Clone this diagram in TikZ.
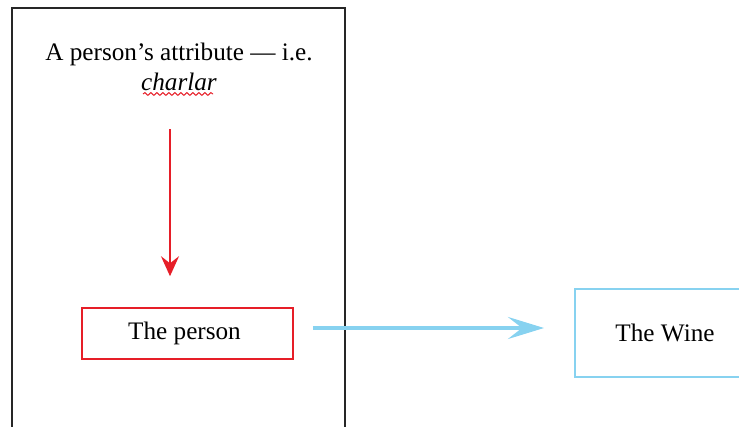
\documentclass[tikz,border=0pt]{standalone}
\usepackage{fontspec}
\setmainfont{Liberation Serif}
\usetikzlibrary{arrows.meta, positioning, decorations.pathmorphing}
\definecolor{boxred}{RGB}{230,30,40}
\definecolor{skyblue}{RGB}{135,210,240}

\begin{document}
\begin{tikzpicture}[
        x=0.5pt, y=-0.5pt,
        every node/.style={align=center, font=\fontsize{12.6}{15}\selectfont, inner sep=0pt},
        redbox/.style={draw=boxred, line width=0.75pt, minimum width=105.5pt, minimum height=25.5pt},
        bluebox/.style={draw=skyblue, line width=1pt, minimum width=90pt, minimum height=44pt},
        redarrow/.style={-{Stealth[length=10pt, width=9pt, inset=3.5pt]}, draw=boxred, line width=1pt},
        bluearrow/.style={-{Stealth[length=18pt, width=11pt, inset=7pt]}, draw=skyblue, line width=2pt}
    ]
    \useasboundingbox (0,0) rectangle (739,427);
    \clip (0,0) rectangle (739,427);

    % Frame
    \draw[line width=1pt, black!85] (12,8) rectangle (345,450);

    % Nodes
    \node (attr) at (179,67) {A person’s attribute — i.e.\\ \textit{charlar}};
    \node (person) [redbox] at (187.5,333.5) {\hspace*{-3pt}The person};
    \node (wine) [bluebox] at (665,333) {The Wine};

    % spell-check squiggle
    \draw[boxred, line width=0.5pt, decorate, decoration={snake, amplitude=0.7pt, segment length=3pt}] (143,94) -- (213,94);

    % Connections
    \draw[redarrow] ([xshift=-4.5pt, yshift=-19pt]attr.south) -- ([xshift=-4.5pt, yshift=15.5pt]attr.south |- person.north);
    \draw[bluearrow] ([xshift=9.5pt, yshift=2.75pt]person.east) -- ([xshift=-15pt, yshift=2.75pt]person.east -| wine.west);

\end{tikzpicture}
\end{document}
